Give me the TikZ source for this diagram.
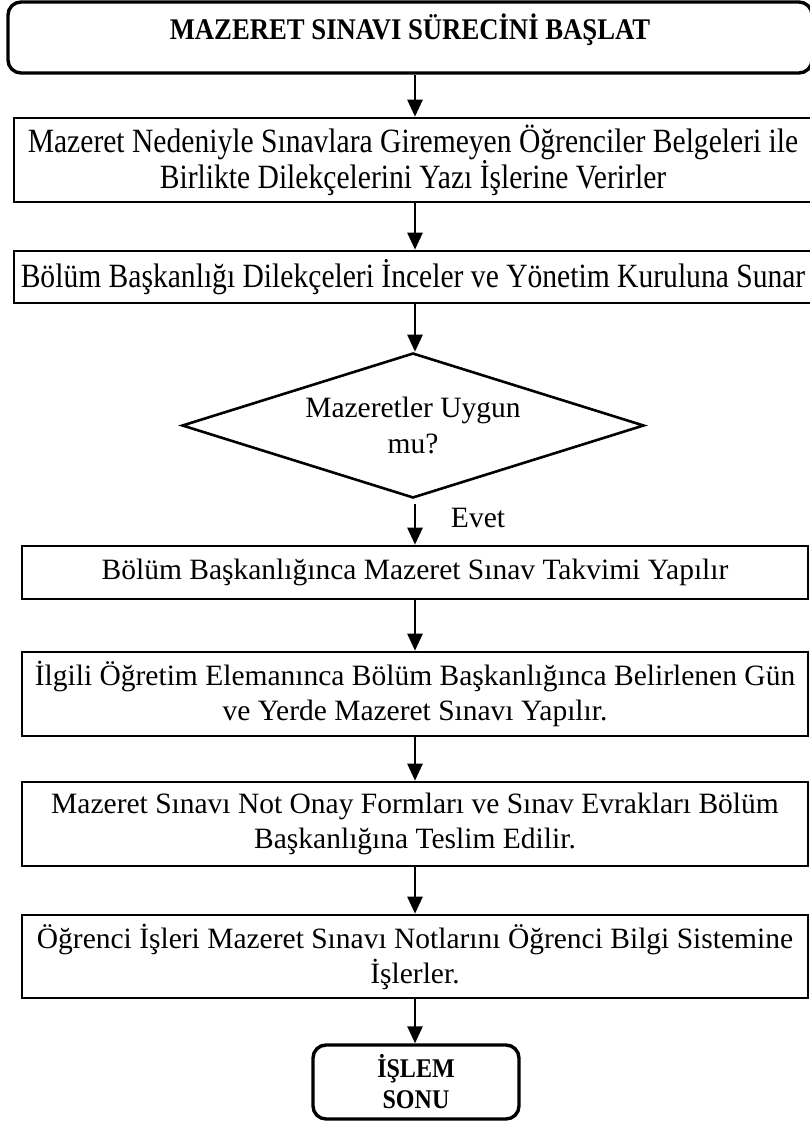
\documentclass[tikz,border=0pt]{standalone}
\usepackage{fontspec}
\setmainfont{Liberation Serif}
\newfontfamily\narrowfont[FakeStretch=0.87]{Liberation Serif}
\newfontfamily\headfont[FakeStretch=0.89]{Liberation Serif}
\usetikzlibrary{shapes.geometric,arrows.meta}

\begin{document}
\begin{tikzpicture}[x=1pt,y=-1pt,
  stepbox/.style={draw, line width=2.6pt, rectangle, inner sep=0pt, align=center,
    font=\fontsize{29.5}{35}\selectfont},
  topbox/.style={stepbox, font=\narrowfont\fontsize{34}{36}\selectfont},
  termbox/.style={draw, line width=3.4pt, rounded corners=13pt, inner sep=0pt, align=center},
  decision/.style={draw, line width=2.6pt, diamond, aspect=3.19, inner sep=0pt, align=center,
    font=\fontsize{29.5}{36}\selectfont},
  flow/.style={-{Triangle[length=17pt,width=15pt]}, line width=2.6pt},
]
\useasboundingbox (0,0) rectangle (810,1121);
\clip (0,0) rectangle (810,1121);

% vertical axis shared by all connectors
\coordinate (axis) at (415,0);

% start terminal
\node[termbox, minimum width=804pt, minimum height=71pt,
  font=\headfont\bfseries\fontsize{30}{34}\selectfont,
  text height=20pt, text depth=15pt] (start) at (410,37.5)
  {MAZERET SINAVI SÜRECİNİ BAŞLAT};

% process steps
\node[topbox, minimum width=798pt, minimum height=84pt] (apply) at (413,160)
  {Mazeret Nedeniyle Sınavlara Giremeyen Öğrenciler Belgeleri ile\\
   Birlikte Dilekçelerini Yazı İşlerine Verirler};

\node[topbox, minimum width=798pt, minimum height=52pt] (review) at (413,277)
  {Bölüm Başkanlığı Dilekçeleri İnceler ve Yönetim Kuruluna Sunar};

\node[decision, minimum width=462pt, minimum height=145pt] (check) at (413,425.5)
  {Mazeretler Uygun\\mu?};

\node[stepbox, minimum width=786pt, minimum height=53pt] (plan) at (415,572.5)
  {Bölüm Başkanlığınca Mazeret Sınav Takvimi Yapılır};

\node[stepbox, minimum width=786pt, minimum height=84pt] (exam) at (415,694)
  {İlgili Öğretim Elemanınca Bölüm Başkanlığınca Belirlenen Gün\\
   ve Yerde Mazeret Sınavı Yapılır.};

\node[stepbox, minimum width=786pt, minimum height=84pt] (forms) at (415,824)
  {Mazeret Sınavı Not Onay Formları ve Sınav Evrakları Bölüm\\
   Başkanlığına Teslim Edilir.};

\node[stepbox, minimum width=786pt, minimum height=83pt] (grades) at (415,956.5)
  {Öğrenci İşleri Mazeret Sınavı Notlarını Öğrenci Bilgi Sistemine\\
   İşlerler.};

% end terminal
\node[termbox, minimum width=206pt, minimum height=74pt,
  font=\headfont\bfseries\fontsize{27}{31}\selectfont] (finish) at (416,1082)
  {İŞLEM\\SONU};

% connectors
\draw[flow] (start.south -| axis) -- (apply.north -| axis);
\draw[flow] (apply.south -| axis) -- (review.north -| axis);
\draw[flow] (review.south -| axis) -- (check.north -| axis);
\draw[flow, shorten <=5pt] (check.south -| axis) -- (plan.north -| axis);
\draw[flow] (plan.south -| axis) -- (exam.north -| axis);
\draw[flow] (exam.south -| axis) -- (forms.north -| axis);
\draw[flow] (forms.south -| axis) -- (grades.north -| axis);
\draw[flow] (grades.south -| axis) -- (finish.north -| axis);

\node[font=\fontsize{29.5}{35}\selectfont] (yes) at (478,518) {Evet};
\end{tikzpicture}
\end{document}
